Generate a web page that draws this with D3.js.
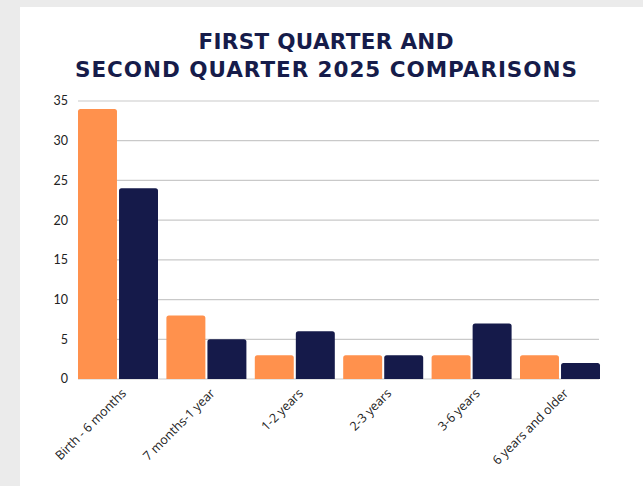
<!DOCTYPE html>
<html>
<head>
<meta charset="utf-8">
<script src="https://cdn.jsdelivr.net/npm/d3@7"></script>
<style>
  html, body { margin: 0; padding: 0; background: #ebebeb; }
  svg { display: block; }
</style>
</head>
<body>
<div id="chart"></div>
<script>
// data
const ageGroups = ["Birth - 6 months", "7 months-1 year", "1-2 years", "2-3 years", "3-6 years", "6 years and older"];
const seriesNames = ["First Quarter", "Second Quarter"];
const firstQuarter = [34, 8, 3, 3, 3, 3];
const secondQuarter = [24, 5, 6, 3, 7, 2];
const yTicks = [0, 5, 10, 15, 20, 25, 30, 35];
const titleLines = ["FIRST QUARTER AND", "SECOND QUARTER 2025 COMPARISONS"];

const W = 643, H = 486;
const colors = d3.scaleOrdinal().domain(seriesNames).range(["#ff914d", "#151a4a"]);

const rows = ageGroups.map((g, i) => ({
  group: g,
  values: [
    { key: seriesNames[0], value: firstQuarter[i] },
    { key: seriesNames[1], value: secondQuarter[i] }
  ]
}));

const svg = d3.select("#chart").append("svg")
  .attr("width", W).attr("height", H);

// white card
svg.append("rect").attr("x", 20).attr("y", 7)
  .attr("width", W - 20).attr("height", H - 7).attr("fill", "#fff");

// title
svg.append("g").selectAll("text")
  .data(titleLines)
  .join("text")
  .attr("x", 326)
  .attr("y", (d, i) => 49 + i * 28)
  .attr("text-anchor", "middle")
  .attr("font-family", "'DejaVu Sans', sans-serif")
  .attr("font-weight", "bold")
  .attr("font-size", 21.5)
  .attr("fill", "#161c4a")
  .attr("textLength", (d, i) => i === 0 ? 255 : 502)
  .attr("lengthAdjust", "spacing")
  .text(d => d);

const plot = { left: 78, right: 600, top: 101, bottom: 379 };

const x0 = d3.scaleBand().domain(ageGroups)
  .range([plot.left, plot.right]).paddingInner(0.095).paddingOuter(0);
const x1 = d3.scaleBand().domain(seriesNames)
  .range([0, x0.bandwidth()]).paddingInner(0.05);
const y = d3.scaleLinear().domain([0, 35]).range([plot.bottom, plot.top]);

// gridlines
svg.append("g").selectAll("line")
  .data(yTicks)
  .join("line")
  .attr("x1", plot.left).attr("x2", plot.right - 1)
  .attr("y1", d => y(d)).attr("y2", d => y(d))
  .attr("stroke", "#c9c9c9").attr("stroke-width", 1.2);

// y tick labels
svg.append("g").selectAll("text")
  .data(yTicks)
  .join("text")
  .attr("x", 68)
  .attr("y", d => y(d))
  .attr("dy", "0.35em")
  .attr("text-anchor", "end")
  .attr("font-family", "Lato, sans-serif")
  .attr("font-size", 12.5)
  .attr("fill", "#222")
  .text(d => d);

// bars with rounded tops
function barPath(x, yTop, w, yBase, r) {
  const rr = Math.min(r, (yBase - yTop) / 2);
  return `M${x},${yBase} V${yTop + rr} Q${x},${yTop} ${x + rr},${yTop} H${x + w - rr} Q${x + w},${yTop} ${x + w},${yTop + rr} V${yBase} Z`;
}

const groups = svg.append("g").selectAll("g")
  .data(rows)
  .join("g")
  .attr("transform", d => `translate(${x0(d.group)},0)`);

groups.selectAll("path")
  .data(d => d.values)
  .join("path")
  .attr("d", d => barPath(x1(d.key), y(d.value), x1.bandwidth(), y(0), 2.5))
  .attr("fill", d => colors(d.key));

// x labels
svg.append("g").selectAll("text")
  .data(ageGroups)
  .join("text")
  .attr("transform", d => `translate(${x0(d) + x0.bandwidth() / 2 + 6},${plot.bottom + 12}) rotate(-45)`)
  .attr("text-anchor", "end")
  .attr("dy", "0.35em")
  .attr("font-family", "'Open Sans', sans-serif")
  .attr("font-size", 12.5)
  .attr("fill", "#222")
  .text(d => d);
</script>
</body>
</html>
